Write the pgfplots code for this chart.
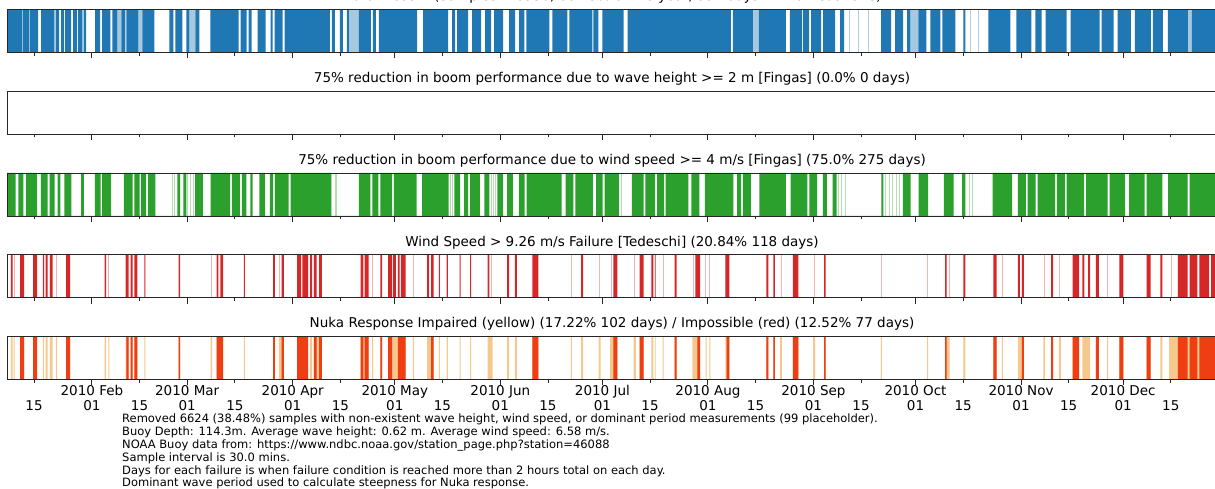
\documentclass[border=0pt]{standalone}
\usepackage{pgfplots}
\usepackage{pgfplotstable}
\pgfplotsset{compat=1.18}
\usepackage{fontspec}
\setmainfont{DejaVu Sans}

\definecolor{presentblue}{RGB}{31,119,180}
\definecolor{windgreen}{RGB}{44,160,44}
\definecolor{failred}{RGB}{214,39,40}
\definecolor{nukared}{RGB}{240,62,20}
\definecolor{nukayellow}{RGB}{242,188,112}

% Day-of-year intervals (2010); "on" = 1 starts a run, 0 ends it
\pgfplotstableread{
day on
6.05 1
10.46 0
10.76 1
12.53 0
12.82 1
15.18 0
16.06 1
19.89 0
20.48 1
21.36 0
21.95 1
22.84 0
23.13 1
24.90 0
25.49 1
26.67 0
26.96 1
28.14 0
28.73 1
29.32 0
31.97 1
33.44 0
34.03 1
36.39 0
36.98 1
38.45 0
39.63 1
40.80 0
41.10 1
44.63 0
45.81 1
49.35 0
53.76 1
54.94 0
55.53 1
57.59 0
58.77 1
59.65 0
61.42 1
62.60 0
65.84 1
74.09 0
74.68 1
76.44 0
77.03 1
77.92 0
79.68 1
82.04 0
83.51 1
84.10 0
84.69 1
87.05 0
87.64 1
100.89 0
101.48 1
102.36 0
103.84 1
104.72 0
105.90 1
106.49 0
109.43 1
112.97 0
113.56 1
114.44 0
115.32 1
126.52 0
128.29 1
135.65 0
136.83 1
137.71 0
138.30 1
141.54 0
142.72 1
145.37 0
146.55 1
148.32 0
149.20 1
151.85 0
153.62 1
155.38 0
156.56 1
158.04 0
158.63 1
165.40 0
166.28 1
170.70 0
171.29 1
178.06 0
178.36 1
179.83 0
181.01 1
187.20 0
188.38 1
218.72 0
219.31 1
225.19 0
226.95 1
234.93 0
236.10 1
239.63 0
239.93 1
241.70 0
242.29 1
245.24 0
245.82 1
249.36 0
250.84 1
252.01 0
262.91 1
265.85 0
267.03 1
269.39 0
270.56 1
271.45 0
273.80 1
276.16 0
277.34 1
280.29 0
280.86 1
284.69 0
287.04 1
287.64 0
294.41 1
300.89 0
302.66 1
307.07 0
308.25 1
310.02 0
311.20 1
317.39 0
318.56 1
327.11 0
327.70 1
331.24 0
332.41 1
336.24 0
337.42 1
342.13 0
342.72 1
345.66 0
347.14 1
353.04 0
354.22 1
361.60 1
}\presenttab

% sparse sampling spells (partly filled)
\pgfplotstableread{
day on
10.46 1
10.76 0
12.53 1
12.82 0
19.89 1
20.48 0
28.14 1
28.73 0
38.45 1
39.63 0
44.63 1
45.81 0
59.65 1
61.42 0
106.49 1
109.43 0
225.19 1
226.95 0
271.45 1
273.80 0
353.04 1
354.22 0
}\presentsparse

\pgfplotstableread{
day h
253.5 1
256.1 1
259.2 1
289.0 1
291.6 1
}\presentfaint

% wind speed >= 4 m/s
\pgfplotstableread{
day on
6.05 1
8.58 0
9.38 1
10.85 0
11.56 1
14.88 0
16.03 1
17.98 0
18.54 1
20.04 0
20.95 1
21.75 0
22.90 1
24.96 0
27.81 1
28.64 0
31.85 1
33.56 0
34.00 1
36.65 0
40.42 1
42.95 0
43.51 1
45.02 0
45.49 1
46.96 0
47.55 1
49.61 0
56.12 1
56.94 0
57.86 1
58.77 0
61.30 1
63.57 0
65.87 1
71.61 0
72.17 1
74.47 0
75.03 1
76.41 0
77.56 1
78.24 0
80.22 1
81.92 0
83.31 1
84.22 0
84.78 1
88.79 0
89.38 1
101.39 0
102.60 1
102.85 0
109.43 1
112.85 0
113.44 1
115.15 0
115.74 1
119.19 0
119.74 1
126.40 0
127.99 1
135.80 0
137.50 1
139.21 0
140.36 1
141.51 0
142.10 1
144.96 0
146.34 1
147.81 0
150.11 1
151.85 0
152.97 1
154.71 0
156.42 1
158.12 0
158.71 1
169.02 0
170.17 1
172.47 0
173.03 1
178.18 0
179.12 1
181.07 0
181.63 1
185.87 0
189.64 1
193.08 0
193.64 1
196.50 0
197.09 1
199.15 0
199.60 1
206.25 0
207.17 1
209.46 0
211.08 1
219.45 0
220.60 1
221.72 0
222.30 1
224.60 0
227.11 1
234.91 0
236.30 1
241.22 0
241.78 1
244.08 0
245.81 1
246.93 0
248.67 1
249.82 0
262.98 1
263.57 0
269.29 1
271.58 0
273.88 1
276.73 0
281.33 1
284.19 0
286.72 1
287.64 0
295.65 1
301.39 0
303.10 1
305.40 0
305.96 1
308.26 0
308.84 1
314.00 0
314.56 1
316.85 0
317.41 1
322.57 0
323.16 1
329.47 0
330.05 1
334.61 0
335.76 1
340.35 0
340.92 1
345.52 0
347.23 1
352.96 0
353.53 1
361.60 1
}\windtab

\pgfplotstableread{
day h
54.6 1
55.2 1
59.2 1
60.0 1
60.8 1
136.3 1
137.0 1
148.3 1
149.0 1
149.7 1
186.55 1
250.3 1
251.2 1
252.5 1
264.2 1
265.3 1
266.2 1
267.3 1
268.4 1
288.9 1
289.6 1
}\windfaint

% wind speed > 9.26 m/s
\pgfplotstableread{
day on
7.20 1
7.67 0
9.93 1
11.08 0
13.73 1
14.88 0
16.59 1
16.94 0
17.39 1
17.98 0
18.65 1
19.45 0
23.45 1
24.60 0
34.71 1
35.15 0
40.89 1
41.81 0
42.40 1
42.95 0
43.51 1
44.34 0
46.40 1
46.72 0
56.47 1
56.94 0
67.61 1
68.17 0
68.73 1
69.55 0
75.62 1
75.97 0
84.22 1
84.78 0
86.72 1
87.43 0
91.32 1
92.47 0
92.82 1
94.53 0
95.09 1
95.68 0
96.24 1
97.06 0
97.74 1
98.54 0
109.99 1
110.79 0
111.14 1
112.29 0
115.74 1
116.30 0
118.03 1
119.19 0
119.51 1
120.30 0
120.89 1
121.45 0
121.81 1
123.19 0
129.49 1
130.06 0
130.64 1
131.44 0
132.91 1
133.26 0
135.21 1
135.56 0
139.01 1
139.33 0
142.10 1
142.42 0
147.26 1
147.81 0
152.97 1
153.56 0
155.26 1
155.85 0
160.42 1
162.16 0
174.77 1
175.32 0
184.25 1
185.40 0
191.94 1
193.09 0
195.35 1
195.94 0
196.40 1
196.65 0
202.25 1
202.81 0
208.32 1
209.70 0
217.15 1
218.30 0
229.17 1
229.76 0
231.23 1
231.70 0
236.98 1
238.57 0
246.14 1
246.61 0
281.66 1
282.13 0
287.05 1
287.64 0
295.88 1
296.80 0
303.10 1
303.69 0
304.25 1
304.81 0
312.85 1
313.41 0
319.16 1
321.10 0
322.01 1
322.60 0
323.72 1
324.31 0
326.02 1
326.84 0
332.91 1
334.06 0
340.92 1
342.07 0
344.93 1
345.52 0
350.08 1
352.97 0
353.53 1
355.82 0
356.39 1
359.28 0
359.83 1
361.60 0
}\stormtab

\pgfplotstableread{
day h
8.11 1
20.60 1
35.86 1
66.17 1
86.10 1
113.44 1
125.47 1
148.45 1
171.87 1
180.20 1
183.62 1
190.50 1
198.80 1
207.68 1
211.41 1
212.56 1
233.48 1
243.22 1
262.98 1
276.55 1
282.83 1
298.50 1
310.83 1
315.43 1
329.47 1
348.10 1
}\stormfaint

% Nuka response impaired
\pgfplotstableread{
day on
7.20 1
7.67 0
8.00 1
8.30 0
9.93 1
11.08 0
13.73 1
14.88 0
16.59 1
16.94 0
17.39 1
17.98 0
18.65 1
19.45 0
20.50 1
20.80 0
23.45 1
24.60 0
34.71 1
35.15 0
35.80 1
36.10 0
40.89 1
41.81 0
42.40 1
42.95 0
43.51 1
44.34 0
46.40 1
46.72 0
56.47 1
56.94 0
65.90 1
66.30 0
67.61 1
69.55 0
75.62 1
75.97 0
84.22 1
84.78 0
85.93 1
87.43 0
91.32 1
94.53 0
95.09 1
95.68 0
96.24 1
98.54 0
109.99 1
112.29 0
113.30 1
113.60 0
115.74 1
116.30 0
118.03 1
123.19 0
125.30 1
125.70 0
129.49 1
131.44 0
132.91 1
133.26 0
135.21 1
135.56 0
139.01 1
139.33 0
142.10 1
142.42 0
147.26 1
148.73 0
152.97 1
153.56 0
155.26 1
155.85 0
160.42 1
162.16 0
171.70 1
172.00 0
174.77 1
175.32 0
179.90 1
180.50 0
183.30 1
185.40 0
190.20 1
190.80 0
191.94 1
193.09 0
195.35 1
195.94 0
196.40 1
196.65 0
198.70 1
199.00 0
202.25 1
202.81 0
207.40 1
209.70 0
211.30 1
211.60 0
212.40 1
212.70 0
217.15 1
218.30 0
229.17 1
229.76 0
231.23 1
231.70 0
233.20 1
233.76 0
236.98 1
238.57 0
242.93 1
243.51 0
246.14 1
246.61 0
262.80 1
263.10 0
276.40 1
276.73 0
281.66 1
283.05 0
287.05 1
287.64 0
295.88 1
296.80 0
298.40 1
298.70 0
303.10 1
304.81 0
310.55 1
311.11 0
312.85 1
313.41 0
315.15 1
315.71 0
319.16 1
321.10 0
322.01 1
324.31 0
326.02 1
326.84 0
329.30 1
329.60 0
332.91 1
334.06 0
340.92 1
342.07 0
344.93 1
345.52 0
347.50 1
361.60 0
}\nukaimpaired

% Nuka response impossible
\pgfplotstableread{
day on
9.93 1
11.08 0
13.73 1
14.88 0
23.45 1
24.60 0
41.10 1
41.81 0
42.40 1
42.95 0
43.51 1
44.34 0
56.47 1
56.94 0
67.61 1
69.55 0
84.22 1
84.78 0
86.72 1
87.43 0
91.32 1
94.53 0
96.24 1
97.06 0
97.74 1
98.54 0
109.99 1
110.79 0
111.14 1
112.29 0
115.74 1
116.30 0
118.03 1
119.19 0
120.89 1
123.19 0
130.64 1
131.44 0
160.42 1
162.16 0
184.25 1
185.40 0
191.94 1
193.09 0
202.25 1
202.81 0
208.90 1
209.70 0
217.50 1
218.30 0
229.17 1
229.76 0
231.23 1
231.70 0
236.98 1
238.57 0
246.14 1
246.61 0
281.66 1
282.13 0
295.88 1
296.80 0
304.25 1
304.81 0
312.85 1
313.41 0
319.16 1
321.10 0
326.02 1
326.84 0
332.91 1
334.06 0
340.92 1
342.07 0
350.08 1
352.97 0
353.53 1
355.82 0
356.39 1
361.60 0
}\nukaimpossible

\pgfplotsset{
  strip/.style={
    scale only axis, width=1210pt, height=43pt,
    xmin=6.05, xmax=361.6, ymin=0, ymax=1,
    ytick=\empty,
    xtick={31,59,90,120,151,181,212,243,273,304,334},
    extra x ticks={14,45,73,104,134,165,195,226,257,287,318,348},
    xtick pos=left, tick align=outside,
    major tick length=6pt,
    extra x tick style={major tick length=3.5pt, xticklabel style={yshift=-2.5pt}},
    xticklabels={}, extra x tick labels={},
    xticklabel style={align=center, font=\fontsize{13.5}{14}\selectfont, inner sep=0pt},
    axis line style={line width=0.9pt, black!85},
    every tick/.style={line width=0.9pt, black!85},
    title style={font=\fontsize{13.5}{16}\selectfont, at={(0.5,1)}, anchor=base, yshift=2.5pt, inner sep=0pt},
    axis on top, anchor=north west,
  },
  runs/.style={const plot mark left, draw=none, fill=#1, mark=none},
  faint/.style={ycomb, draw=#1, opacity=0.35, line width=0.9pt, mark=none},
}

\begin{document}
\begin{tikzpicture}
\path[use as bounding box] (0,0) rectangle (1215pt,-489pt);

\begin{axis}[strip, at={(7pt,-9.5pt)},
  title={Data Present (Samples: 16590, 60.49\% of the year, 354 days with at least one)}]
  \addplot[runs=presentblue] table[x=day, y=on] {\presenttab} \closedcycle;
  \addplot[runs=presentblue, opacity=0.4] table[x=day, y=on] {\presentsparse} \closedcycle;
  \addplot[faint=presentblue] table[x=day, y=h] {\presentfaint};
\end{axis}

\begin{axis}[strip, at={(7pt,-91pt)},
  title={75\% reduction in boom performance due to wave height >= 2 m [Fingas] (0.0\% 0 days)}]
\end{axis}

\begin{axis}[strip, at={(7pt,-173pt)},
  title={75\% reduction in boom performance due to wind speed >= 4 m/s [Fingas] (75.0\% 275 days)}]
  \addplot[runs=windgreen] table[x=day, y=on] {\windtab} \closedcycle;
  \addplot[faint=windgreen] table[x=day, y=h] {\windfaint};
\end{axis}

\begin{axis}[strip, at={(7pt,-254.5pt)},
  title={Wind Speed > 9.26 m/s Failure [Tedeschi] (20.84\% 118 days)}]
  \addplot[runs=failred] table[x=day, y=on] {\stormtab} \closedcycle;
  \addplot[faint=failred] table[x=day, y=h] {\stormfaint};
\end{axis}

\begin{axis}[strip, at={(7pt,-336pt)},
  title={Nuka Response Impaired (yellow) (17.22\% 102 days) / Impossible (red) (12.52\% 77 days)},
  xticklabels={{\strut 2010 Feb\\\strut 01},{\strut 2010 Mar\\\strut 01},{\strut 2010 Apr\\\strut 01},
    {\strut 2010 May\\\strut 01},{\strut 2010 Jun\\\strut 01},{\strut 2010 Jul\\\strut 01},
    {\strut 2010 Aug\\\strut 01},{\strut 2010 Sep\\\strut 01},{\strut 2010 Oct\\\strut 01},
    {\strut 2010 Nov\\\strut 01},{\strut 2010 Dec\\\strut 01}},
  extra x tick labels={{\strut\\\strut 15},{\strut\\\strut 15},{\strut\\\strut 15},{\strut\\\strut 15},
    {\strut\\\strut 15},{\strut\\\strut 15},{\strut\\\strut 15},{\strut\\\strut 15},
    {\strut\\\strut 15},{\strut\\\strut 15},{\strut\\\strut 15},{\strut\\\strut 15}}]
  \addplot[runs=nukayellow, opacity=0.8] table[x=day, y=on] {\nukaimpaired} \closedcycle;
  \addplot[runs=nukared] table[x=day, y=on] {\nukaimpossible} \closedcycle;
\end{axis}

\node[anchor=north west, align=left, inner sep=0pt, font=\fontsize{11.5}{12.8}\selectfont]
  at (122pt,-414pt) {Removed 6624 (38.48\%) samples with non-existent wave height, wind speed, or dominant period measurements (99 placeholder).\\
Buoy Depth: 114.3m. Average wave height: 0.62 m. Average wind speed: 6.58 m/s.\\
NOAA Buoy data from: https://www.ndbc.noaa.gov/station\_page.php?station=46088\\
Sample interval is 30.0 mins.\\
Days for each failure is when failure condition is reached more than 2 hours total on each day.\\
Dominant wave period used to calculate steepness for Nuka response.};
\end{tikzpicture}
\end{document}
